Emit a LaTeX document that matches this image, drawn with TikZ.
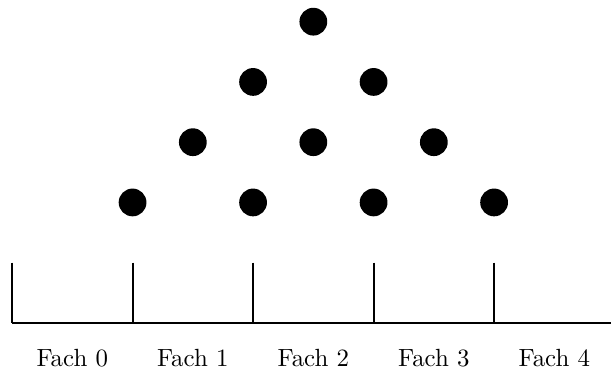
\documentclass[tikz,border=0pt]{standalone}
\usepackage{tikz}

\tikzset{
  kugel/.style={circle,fill=black,inner sep=0pt,minimum size=0.42cm},
  fachlabel/.style={font=\fontsize{10.7}{13}\selectfont}
}

\begin{document}
\begin{tikzpicture}[x=0.911cm,y=0.911cm]

  \useasboundingbox (-0.2,-0.9) rectangle (9.94,5.36);

  % Nagelbrett
  \node[kugel] (n50) at (5,5) {};
  \node[kugel] (n41) at (4,4) {};
  \node[kugel] (n42) at (6,4) {};
  \foreach \x/\k in {3/1,5/2,7/3}
    \node[kugel] (n3\k) at (\x,3) {};
  \foreach \x/\k in {2/1,4/2,6/3,8/4}
    \node[kugel] (n2\k) at (\x,2) {};

  % Faecher
  \coordinate (b0) at (0,0);
  \coordinate (b5) at (9.94,0);
  \draw[line width=0.9pt] (b0) -- (b5);
  \foreach \i in {0,1,2,3,4}{
    \coordinate (w\i) at (2*\i,1);
    \coordinate (f\i) at (2*\i,0);
    \draw[line width=0.9pt] (w\i) -- (f\i);
    \node[fachlabel] (fach\i) at (2*\i+1,-0.58) {Fach \i};
  }

\end{tikzpicture}
\end{document}
